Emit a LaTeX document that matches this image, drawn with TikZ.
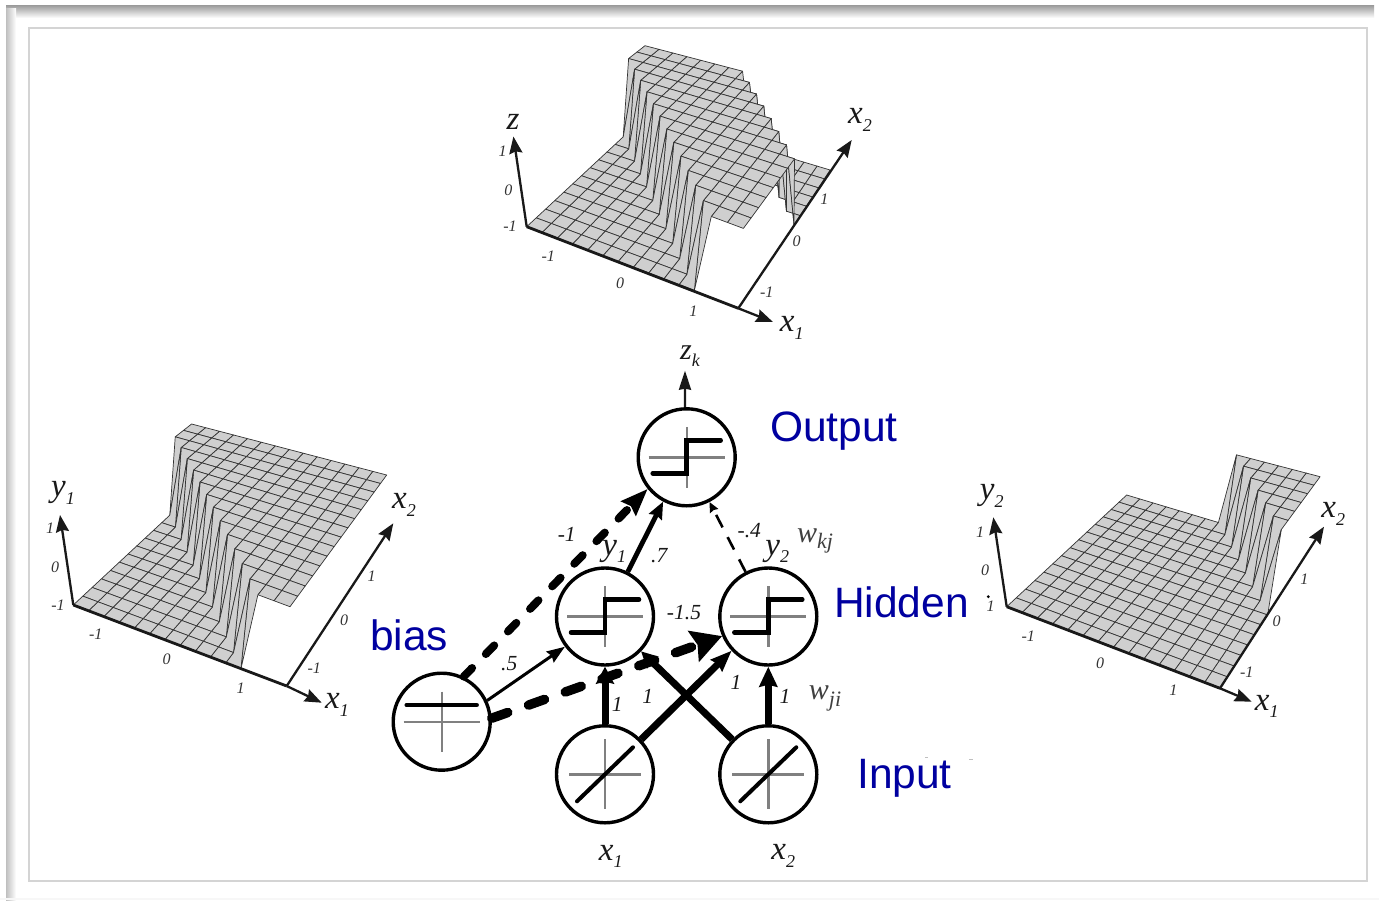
\documentclass[tikz,border=0pt]{standalone}
\usepackage{fontspec}
\setmainfont{Liberation Serif}
\newfontfamily\blabfont{Liberation Sans}
\usetikzlibrary{arrows.meta,calc}
\definecolor{blab}{HTML}{0000A0}
\definecolor{cellfill}{gray}{0.81}
\definecolor{iconaxis}{gray}{0.5}
\newcommand{\subl}[3][18]{#2\raisebox{-.22em}{\fontsize{#1}{#1}\selectfont #3}}
\tikzset{
 cell/.style={fill=cellfill,draw=black!80,line width=0.7pt,line join=round},
 axisline/.style={draw=black!90,line width=2.3pt,-{Stealth[length=17pt,width=13pt,inset=2pt]}},
 axisthick/.style={draw=black!90,line width=2.8pt},
 tickl/.style={font=\fontsize{16}{16}\selectfont\itshape,text=black!80,inner sep=0pt},
 mathl/.style={font=\fontsize{33}{33}\selectfont\itshape,text=black!90,inner sep=0pt},
 wt/.style={font=\fontsize{21.5}{21.5}\selectfont\itshape,text=black!90,inner sep=0pt},
 wlab/.style={font=\fontsize{30}{30}\selectfont\itshape,text=black!75,inner sep=0pt},
 bluel/.style={font=\fontsize{42.5}{42.5}\selectfont\blabfont,text=blab,inner sep=0pt,anchor=base west},
 neuron/.style={circle,draw=black,line width=3.4pt,minimum size=97pt,inner sep=0pt,fill=white},
 iconaxis/.style={draw=iconaxis,line width=2.4pt},
 iconcurve/.style={draw=black,line width=4.5pt,line cap=round,line join=miter},
 rampcurve/.style={draw=black,line width=4pt,line cap=round},
 bigarrow/.style={draw=black,line cap=butt},
}
\newcommand{\ptcalc}[4]{%
 \pgfmathsetmacro\myuu{#1/14}%
 \pgfmathsetmacro\myvv{1.12*(#2/14)/(1+0.12*(#2/14))}%
 \pgfmathsetmacro\mywa{(1-\myuu)*(1-\myvv)}%
 \pgfmathsetmacro\mywb{\myuu*(1-\myvv)}%
 \pgfmathsetmacro\mywc{\myuu*\myvv}%
 \pgfmathsetmacro\mywd{(1-\myuu)*\myvv}%
 \pgfmathsetmacro\mypx{\mywa*73.3+\mywb*286.7+\mywc*376.7+\mywd*193.3+#3*(\mywa*(-8)+\mywb*3.3+\mywc*10+\mywd*(-1.7))}%
 \pgfmathsetmacro\mypy{\mywa*605+\mywb*686+\mywc*548.3+\mywd*493.3+#3*(\mywa*(-82)+\mywb*(-79.3)+\mywc*(-73.3)+\mywd*(-69.3))}%
 \coordinate (#4) at (\mypx+\mysx,\mypy+\mysy);%
}
\newcommand{\hset}[2]{%
 \ifnum\numexpr#1+#2\relax<\mylo\relax\def\myhv{0}\else
 \ifnum\numexpr#1+#2\relax<\myhi\relax\def\myhv{1}\else\def\myhv{0}\fi\fi}
% surface: shift x, shift y, low and high bound of the raised band
\newcommand{\surf}[4]{%
 \def\mysx{#1}\def\mysy{#2}\def\mylo{#3}\def\myhi{#4}%
 \foreach \j in {13,12,...,0}{%
  \foreach \i in {13,12,...,0}{%
   \pgfmathtruncatemacro\myii{\i+1}\pgfmathtruncatemacro\myjj{\j+1}%
   \hset{\i}{\j}\ptcalc{\i}{\j}{\myhv}{qa}%
   \hset{\myii}{\j}\ptcalc{\myii}{\j}{\myhv}{qb}%
   \hset{\myii}{\myjj}\ptcalc{\myii}{\myjj}{\myhv}{qc}%
   \hset{\i}{\myjj}\ptcalc{\i}{\myjj}{\myhv}{qd}%
   \draw[cell] (qa)--(qb)--(qc)--(qd)--cycle;
  }%
 }%
}
\newcommand{\stepicon}[1]{%
 \begin{scope}[shift={(#1.center)}]
 \draw[iconaxis] (-38,0)--(38,0);
 \draw[iconaxis] (0,-30.5)--(0,30.5);
 \draw[iconcurve] (-34,16)--(0,16)--(0,-17)--(34,-17);
 \end{scope}}
\newcommand{\rampicon}[1]{%
 \begin{scope}[shift={(#1.center)}]
 \draw[iconaxis] (-36,0)--(36,0);
 \draw[iconaxis] (0,-35)--(0,35);
 \draw[rampcurve] (-28,27)--(28,-27);
 \end{scope}}
\begin{document}
\begin{tikzpicture}[x=1pt,y=-1pt]
\useasboundingbox (0,0) rectangle (1379,900);
\fill[white] (0,0) rectangle (1379,900);
% page shadow
\shade[top color=gray!80,bottom color=white] (6,5) rectangle (1374,18);
\shade[left color=gray!50,right color=white] (6,8) rectangle (16,900);
\fill[gray!6] (0,898) rectangle (1379,900);
\draw[draw=black!17,line width=1.3pt,fill=white] (29,28) rectangle (1367,881);
% left surface (y1)
\surf{0}{0}{12}{99}
\coordinate (ya) at (73.3,605);
\coordinate (yb) at (286.7,686);
\coordinate (yz) at (60,515);
\coordinate (yx) at (321.7,702.7);
\coordinate (yw) at (393.3,523.3);
\draw[axisline] (ya)--(yz);
\draw[axisthick] (ya)--(yb);
\draw[axisline] (yb)--(yx);
\draw[axisline] (yb)--(yw);
\node[mathl] (l1) at (63,493) {\subl{y}{1}};
\node[tickl] (l2) at (50,528) {1};
\node[tickl] (l3) at (55,567.7) {0};
\node[tickl] (l4) at (58,605.7) {-1};
\node[tickl] (l5) at (95.7,634) {-1};
\node[tickl] (l6) at (166.7,659.3) {0};
\node[tickl] (l7) at (240.7,688.3) {1};
\node[tickl] (l8) at (314.3,668.3) {-1};
\node[tickl] (l9) at (344,620) {0};
\node[tickl] (l10) at (371.7,576) {1};
\node[mathl] (l11) at (337,705) {\subl{x}{1}};
\node[mathl] (l12) at (404,505) {\subl{x}{2}};
% top surface (z)
\surf{453.4}{-378.3}{12}{22}
\coordinate (za) at (526.7,226.7);
\coordinate (zb) at (738.3,308.3);
\coordinate (zz) at (513.4,136.5);
\coordinate (zx) at (773,322);
\coordinate (zw) at (851.7,140);
\draw[axisline] (za)--(zz);
\draw[axisthick] (za)--(zb);
\draw[axisline] (zb)--(zx);
\draw[axisline] (zb)--(zw);
\node[mathl] (t1) at (513,122) {z};
\node[tickl] (t2) at (502.7,151.7) {1};
\node[tickl] (t3) at (508.3,190.7) {0};
\node[tickl] (t4) at (510,226.7) {-1};
\node[tickl] (t5) at (548.3,256.7) {-1};
\node[tickl] (t6) at (620,283.3) {0};
\node[tickl] (t7) at (693.3,311.7) {1};
\node[tickl] (t8) at (766.7,292.7) {-1};
\node[tickl] (t9) at (796.7,241.7) {0};
\node[tickl] (t10) at (824.3,199.3) {1};
\node[mathl] (t11) at (791.7,328) {\subl{x}{1}};
\node[mathl] (t12) at (860,120) {\subl{x}{2}};
% right surface (y2)
\surf{933.4}{1.7}{22}{99}
\coordinate (va) at (1006.7,606.7);
\coordinate (vb) at (1220,688.3);
\coordinate (vz) at (993.3,517.3);
\coordinate (vx) at (1251.7,701.7);
\coordinate (vw) at (1324,526.7);
\draw[axisline] (va)--(vz);
\draw[axisthick] (va)--(vb);
\draw[axisline] (vb)--(vx);
\draw[axisline] (vb)--(vw);
\node[mathl] (r1) at (991.7,496) {\subl{y}{2}};
\node[tickl] (r2) at (980,532.7) {1};
\node[tickl] (r3) at (985,570.7) {0};
\node[tickl] (r4) at (990.5,606.5) {1};
\fill[black] (988.3,596.7) circle (1.6);
\node[tickl] (r5) at (1028.3,636.7) {-1};
\node[tickl] (r6) at (1100,663.3) {0};
\node[tickl] (r7) at (1173.3,690.7) {1};
\node[tickl] (r8) at (1246.7,672.3) {-1};
\node[tickl] (r9) at (1276.7,621.7) {0};
\node[tickl] (r10) at (1304.3,579.3) {1};
\node[mathl] (r11) at (1266.7,706.7) {\subl{x}{1}};
\node[mathl] (r12) at (1333.3,514) {\subl{x}{2}};
% network
\node[neuron] (out) at (686.7,457.3) {};
\node[neuron] (hy1) at (605,616.5) {};
\node[neuron] (hy2) at (768.3,616.5) {};
\node[neuron] (inx1) at (605,774.3) {};
\node[neuron] (inx2) at (768.3,774.3) {};
\node[neuron] (bias) at (441.7,721.7) {};
\stepicon{out}\stepicon{hy1}\stepicon{hy2}
\rampicon{inx1}\rampicon{inx2}
\begin{scope}[shift={(bias.center)}]
 \draw[iconaxis] (-38,0)--(38,0);
 \draw[iconaxis] (0,-30)--(0,30);
 \draw[iconcurve] (-35,-16.7)--(35,-16.7);
\end{scope}
\coordinate (ztip) at (685,370.7);
\draw[draw=black!90,line width=2.4pt,-{Stealth[length=19pt,width=12pt,inset=1pt]}] (out.92)--(ztip);
\draw[bigarrow,line width=4.8pt,-{Stealth[length=17pt,width=14pt,inset=2pt]}] (hy1.63)--(out.242);
\draw[bigarrow,line width=8pt,line cap=round,dash pattern=on 12pt off 19.6pt,-{Stealth[length=27pt,width=20pt,inset=3pt]}] (bias.64)--(out.219.6);
\draw[bigarrow,line width=2.6pt,dash pattern=on 14pt off 11pt,-{Stealth[length=10pt,width=9pt,inset=1pt]}] (hy2.117.7)--(out.297);
\draw[bigarrow,line width=3pt,-{Stealth[length=18pt,width=13pt,inset=2pt]}] (bias.25)--(hy1.217.6);
\draw[bigarrow,line width=7pt,-{Stealth[length=17pt,width=18pt,inset=2pt]}] (inx1.north)--(hy1.south);
\draw[bigarrow,line width=7pt,-{Stealth[length=20pt,width=18pt,inset=2pt]}] (inx2.north)--(hy2.south);
\draw[bigarrow,line width=7pt,-{Stealth[length=21pt,width=16pt,inset=2pt]}] (inx1.44)--(hy2.223);
\draw[bigarrow,line width=7pt,-{Stealth[length=16pt,width=16pt,inset=2pt]}] (inx2.136)--(hy1.316);
\draw[bigarrow,line width=9.5pt,line cap=round,dash pattern=on 17pt off 22pt,-{Stealth[length=30pt,width=32pt,inset=4pt]}] (bias.4)--(hy2.203);
% labels
\node[mathl,font=\fontsize{30}{30}\selectfont\itshape] (zk) at (690,356) {\subl[18]{z}{k}};
\node[wt] (w1) at (509.3,663.3) {.5};
\node[wt] (w2) at (566.7,534) {-1};
\node[wt] (w3) at (659.3,556) {.7};
\node[wt] (w4) at (749.3,530.7) {-.4};
\node[wt] (w5) at (684,612.7) {-1.5};
\node[wt] (w6) at (617.3,704) {1};
\node[wt] (w7) at (647.7,696) {1};
\node[wt] (w8) at (736,682.7) {1};
\node[wt] (w9) at (785,696) {1};
\node[mathl] (hl1) at (614.3,551.7) {\subl{y}{1}};
\node[mathl] (hl2) at (777.3,551.7) {\subl{y}{2}};
\node[wlab] (wkj) at (815,541) {\subl[22]{w}{kj}};
\node[wlab] (wji) at (825,698.3) {\subl[22]{w}{ji}};
\node[mathl] (bx1) at (610.7,856.7) {\subl{x}{1}};
\node[mathl] (bx2) at (783.3,856) {\subl{x}{2}};
\node[bluel] (lo) at (770,441) {Output};
\node[bluel] (lh) at (834,617) {Hidden};
\node[bluel] (li) at (857,788) {Input};
\node[bluel] (lb) at (370,650) {bias};
\draw[black!25,line width=0.8pt] (925,757.5)--(928,757.5) (969,759)--(973,759);
\end{tikzpicture}
\end{document}
